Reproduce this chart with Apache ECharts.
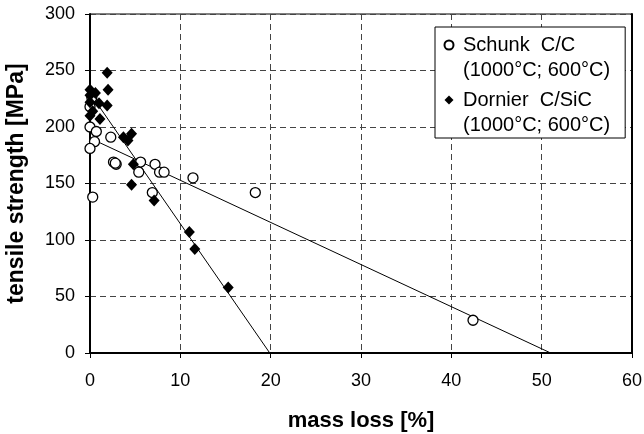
<!DOCTYPE html>
<html>
<head>
<meta charset="utf-8">
<title>Tensile strength vs. mass loss</title>
<script src="https://cdn.jsdelivr.net/npm/echarts@6/dist/echarts.min.js"></script>
<style>
  html, body { margin: 0; padding: 0; background: #fff; }
  #chart { width: 644px; height: 434px; }
</style>
</head>
<body>
<div id="chart"></div>
<script>
// Schunk C/C specimens (oxidised at 1000 °C and 600 °C)
const schunkMassLoss = [0.0, 0.7, 0.5, 0.0, 2.3, 0.3, 2.6, 2.9, 2.8, 5.6, 5.4, 7.2, 7.7, 8.2, 6.9, 11.4, 18.3, 42.4, 0.0, 0.2];
const schunkStrength = [200, 196, 187, 181, 191, 138, 169, 167, 168, 169, 160, 167, 160, 160, 142, 155, 142, 29, 218, 226];

// Dornier C/SiC specimens (oxidised at 1000 °C and 600 °C)
const dornierMassLoss = [1.9, 2.0, 0.0, 0.6, 1.0, 1.9, 0.0, 1.1, 0.0, 0.0, 0.3, 3.7, 4.6, 4.2, 4.8, 4.6, 7.1, 11.0, 11.6, 15.3];
const dornierStrength = [248, 233, 233, 230, 221, 219, 222, 207, 210, 228, 214, 191, 194, 188, 167, 149, 135, 107, 92, 58];

// Linear trend lines (end points)
const schunkFitX = [0.3, 51.0];
const schunkFitY = [189, 0];
const dornierFitX = [0.6, 19.9];
const dornierFitY = [223, 0];

// Series names and the second legend line
const seriesNames = ['Schunk  C/C', 'Dornier  C/SiC'];
const legendSubline = '(1000°C; 600°C)';

// Axes
const xMin = 0, xMax = 60, xStep = 10;
const yMin = 0, yMax = 300, yStep = 50;
const xTitle = 'mass loss [%]';
const yTitle = 'tensile strength [MPa]';

const pairs = (xs, ys) => xs.map((x, i) => [x, ys[i]]);
const FONT = '"Liberation Sans", Arial, Helvetica, sans-serif';

const chart = echarts.init(document.getElementById('chart'), null, { renderer: 'canvas' });

const gridLine = { show: true, lineStyle: { color: '#444', width: 1, type: [6, 4] } };

chart.setOption({
  backgroundColor: '#fff',
  animation: false,
  grid: {
    left: 90, right: 12, top: 14, bottom: 81,
    outerBoundsMode: 'none', containLabel: false,
    show: true, borderColor: '#000', borderWidth: 1
  },
  legend: {
    orient: 'vertical',
    left: 435, top: 27,
    // a blank first line keeps each icon level with the series name
    padding: [-19.5, 15, 0.5, 8.5],
    itemGap: -20,
    itemWidth: 9, itemHeight: 9,
    backgroundColor: '#fff',
    borderColor: '#000', borderWidth: 1,
    selectedMode: false,
    data: seriesNames,
    formatter: name => '\n' + name + '\n' + legendSubline,
    textStyle: { fontFamily: FONT, fontSize: 20, lineHeight: 25, color: '#000', padding: [0, 0, 0, 4.5] }
  },
  xAxis: {
    type: 'value', min: xMin, max: xMax, interval: xStep,
    name: xTitle, nameLocation: 'middle', nameGap: 57,
    nameTextStyle: { fontFamily: FONT, fontSize: 22, fontWeight: 'bold', color: '#000' },
    axisLine: { show: true, onZero: false, lineStyle: { color: '#000', width: 2 } },
    axisTick: { show: true, inside: false, length: 5, lineStyle: { color: '#000' } },
    axisLabel: { fontFamily: FONT, fontSize: 18, color: '#000', margin: 19 },
    splitLine: gridLine
  },
  yAxis: [{
    type: 'value', min: yMin, max: yMax, interval: yStep,
    name: yTitle, nameLocation: 'middle', nameGap: 62,
    nameTextStyle: { fontFamily: FONT, fontSize: 23, fontWeight: 'bold', color: '#000' },
    axisLine: { show: true, onZero: false, lineStyle: { color: '#000', width: 2 } },
    axisTick: { show: true, inside: false, length: 5, lineStyle: { color: '#000' } },
    axisLabel: { fontFamily: FONT, fontSize: 18, color: '#000', margin: 15 },
    splitLine: gridLine
  }, {
    type: 'value', min: yMin, max: yMax, interval: yStep, position: 'right',
    axisLine: { show: true, onZero: false, lineStyle: { color: '#000', width: 2 } },
    axisTick: { show: false }, axisLabel: { show: false }, splitLine: { show: false }
  }],
  series: [
    {
      name: 'Schunk fit', type: 'line', data: pairs(schunkFitX, schunkFitY),
      showSymbol: false, symbol: 'none', silent: true, z: 1,
      lineStyle: { color: '#000', width: 1 }
    },
    {
      name: 'Dornier fit', type: 'line', data: pairs(dornierFitX, dornierFitY),
      showSymbol: false, symbol: 'none', silent: true, z: 1,
      lineStyle: { color: '#000', width: 1 }
    },
    {
      name: seriesNames[0], type: 'scatter', z: 3,
      data: pairs(schunkMassLoss, schunkStrength),
      symbol: 'circle', symbolSize: 10,
      itemStyle: { color: '#fff', borderColor: '#000', borderWidth: 1.3, opacity: 1 }
    },
    {
      name: seriesNames[1], type: 'scatter', z: 4,
      data: pairs(dornierMassLoss, dornierStrength),
      symbol: 'diamond', symbolSize: [11, 12], symbolKeepAspect: true,
      itemStyle: { color: '#000', borderColor: '#000', borderWidth: 0, opacity: 1 }
    }
  ]
});
</script>
</body>
</html>
